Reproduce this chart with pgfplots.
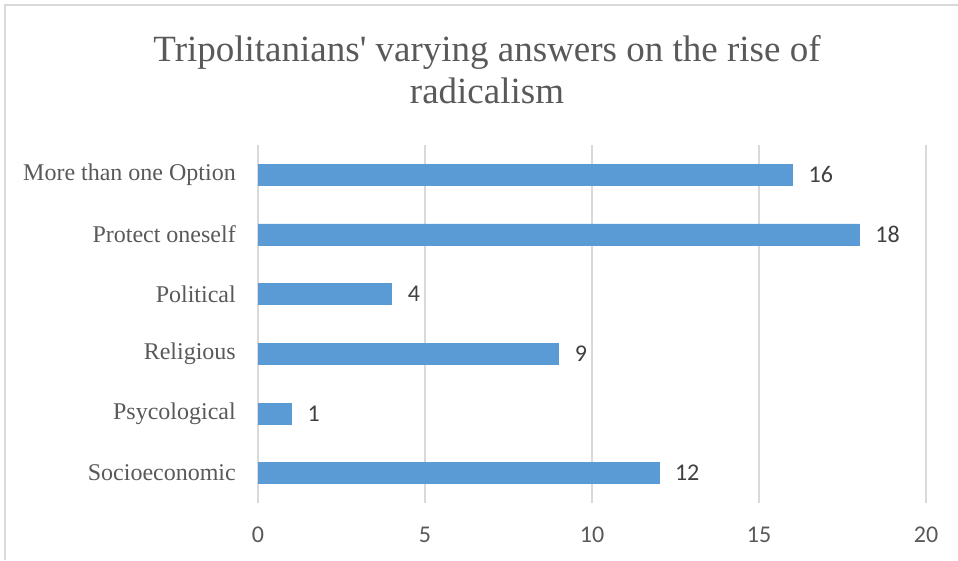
\documentclass[border=0pt]{standalone}
\usepackage{pgfplots}
\pgfplotsset{compat=1.18}
\usepackage{fontspec}
\setmainfont{Liberation Serif}
\newfontfamily\titlefont{Liberation Serif}[Ligatures=TeXOff]
\newfontfamily\calibri{Carlito}
\definecolor{barblue}{HTML}{5B9BD5}
\definecolor{gridgray}{HTML}{D9D9D9}
\definecolor{txtgray}{HTML}{595959}
\definecolor{lblgray}{HTML}{404040}
\begin{document}
\begin{tikzpicture}[x=1pt,y=1pt]
\path[use as bounding box] (0,0) rectangle (958,560);
\draw[gridgray, line width=1.3pt] (5,0) -- (5,555) -- (958,555);
\node[anchor=base, text=txtgray, font=\titlefont\fontsize{37}{43}\selectfont, inner sep=0pt] at (487,498) {Tripolitanians' varying answers on the rise of};
\node[anchor=base, text=txtgray, font=\titlefont\fontsize{37}{43}\selectfont, inner sep=0pt] at (487,456) {radicalism};
\begin{axis}[
  at={(258pt,57pt)}, anchor=south west,
  scale only axis, width=668pt, height=358pt,
  xbar, bar width=21pt,
  xmin=0, xmax=20, ymin=-0.5, ymax=5.5,
  xtick={0,5,10,15,20},
  ytick={0,1,2,3,4,5},
  yticklabels={Socioeconomic,Psycological,Religious,Political,Protect oneself,More than one Option},
  xmajorgrids, grid style={gridgray, line width=1.3pt},
  axis line style={draw=none},
  major tick length=0pt,
  /pgf/number format/assume math mode=true,
  xticklabel style={font=\calibri\fontsize{24}{28}\selectfont, text=txtgray, inner sep=0pt, anchor=north, yshift=-24pt},
  yticklabel style={font=\fontsize{24}{28}\selectfont, text=txtgray, inner sep=0pt, anchor=east, xshift=-22pt},
  nodes near coords,
  nodes near coords style={font=\calibri\fontsize{24}{28}\selectfont, text=lblgray, anchor=west, inner sep=0pt, xshift=16pt},
]
\addplot[fill=barblue, draw=barblue] coordinates {(12,0) (1,1) (9,2) (4,3) (18,4) (16,5)};
\end{axis}
\end{tikzpicture}
\end{document}
